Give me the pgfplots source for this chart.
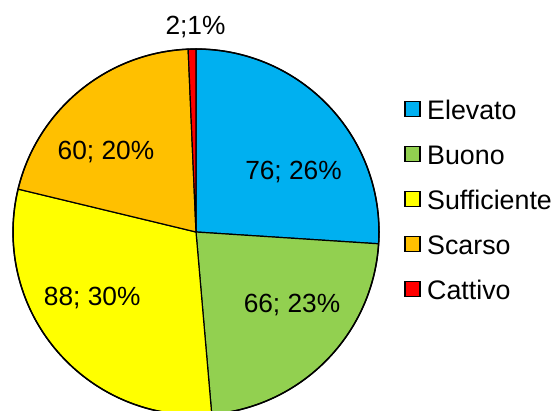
\documentclass[border=0pt]{standalone}
\usepackage{pgfplots}
\pgfplotsset{compat=1.18}
\usepackage{pgfplotstable}
\usepackage{fontspec}
\setmainfont{Liberation Sans}
\definecolor{colA}{HTML}{00B0F0}
\definecolor{colB}{HTML}{92D050}
\definecolor{colC}{HTML}{FFFF00}
\definecolor{colD}{HTML}{FFC000}
\definecolor{colE}{HTML}{FF0000}
\pgfplotstableread{
label value
Elevato 76
Buono 66
Sufficiente 88
Scarso 60
Cattivo 2
}\piedata
\begin{document}
\begin{tikzpicture}
\pgfplotstablegetelem{0}{value}\of\piedata\edef\vA{\pgfplotsretval}
\pgfplotstablegetelem{1}{value}\of\piedata\edef\vB{\pgfplotsretval}
\pgfplotstablegetelem{2}{value}\of\piedata\edef\vC{\pgfplotsretval}
\pgfplotstablegetelem{3}{value}\of\piedata\edef\vD{\pgfplotsretval}
\pgfplotstablegetelem{4}{value}\of\piedata\edef\vE{\pgfplotsretval}
\pgfmathsetmacro\tot{\vA+\vB+\vC+\vD+\vE}
\pgfmathsetmacro\angA{90-\vA/\tot*360}
\pgfmathsetmacro\angB{90-(\vA+\vB)/\tot*360}
\pgfmathsetmacro\angC{90-(\vA+\vB+\vC)/\tot*360}
\pgfmathsetmacro\angD{90-(\vA+\vB+\vC+\vD)/\tot*360}
\def\R{183pt}
\begin{axis}[x=1pt,y=1pt,xmin=0,xmax=553,ymin=0,ymax=410,
  scale only axis, hide axis, clip=true]
\filldraw[fill=colA,draw=black,line width=1.2pt,line join=round] (axis cs:196,178) -- ++(90:\R) arc[start angle=90,end angle=\angA,radius=\R] -- cycle;
\filldraw[fill=colB,draw=black,line width=1.2pt,line join=round] (axis cs:196,178) -- ++(\angA:\R) arc[start angle=\angA,end angle=\angB,radius=\R] -- cycle;
\filldraw[fill=colC,draw=black,line width=1.2pt,line join=round] (axis cs:196,178) -- ++(\angB:\R) arc[start angle=\angB,end angle=\angC,radius=\R] -- cycle;
\filldraw[fill=colD,draw=black,line width=1.2pt,line join=round] (axis cs:196,178) -- ++(\angC:\R) arc[start angle=\angC,end angle=\angD,radius=\R] -- cycle;
\filldraw[fill=colE,draw=black,line width=1.2pt,line join=round] (axis cs:196,178) -- ++(\angD:\R) arc[start angle=\angD,end angle=-270,radius=\R] -- cycle;
\draw[line width=1.5pt] (axis cs:196,178) circle[radius=\R];
% data labels
\begin{scope}[every node/.style={font=\fontsize{26.3}{30}\selectfont,inner sep=0pt,anchor=base}]
\node at (axis cs:293.5,230.7) {76; 26\%};
\node at (axis cs:292,97.3) {66; 23\%};
\node at (axis cs:92.2,105) {88; 30\%};
\node at (axis cs:106,250) {60; 20\%};
\node at (axis cs:195.5,375.7) {2;1\%};
\end{scope}
% legend
\begin{scope}[every node/.style={font=\fontsize{26.8}{30}\selectfont,inner sep=0pt,anchor=base west}]
\filldraw[fill=colA,draw=black,line width=1.2pt] (axis cs:405,293.2) rectangle (axis cs:420,308.2);
\node at (axis cs:427,290.7) {Elevato};
\filldraw[fill=colB,draw=black,line width=1.2pt] (axis cs:405,248.2) rectangle (axis cs:420,263.2);
\node at (axis cs:427,245.7) {Buono};
\filldraw[fill=colC,draw=black,line width=1.2pt] (axis cs:405,203.2) rectangle (axis cs:420,218.2);
\node at (axis cs:427,200.7) {Sufficiente};
\filldraw[fill=colD,draw=black,line width=1.2pt] (axis cs:405,158.2) rectangle (axis cs:420,173.2);
\node at (axis cs:427,155.7) {Scarso};
\filldraw[fill=colE,draw=black,line width=1.2pt] (axis cs:405,113.2) rectangle (axis cs:420,128.2);
\node at (axis cs:427,110.7) {Cattivo};
\end{scope}
\end{axis}
\pgfresetboundingbox
\path (current axis.south west) rectangle (current axis.north east);
\end{tikzpicture}
\end{document}
